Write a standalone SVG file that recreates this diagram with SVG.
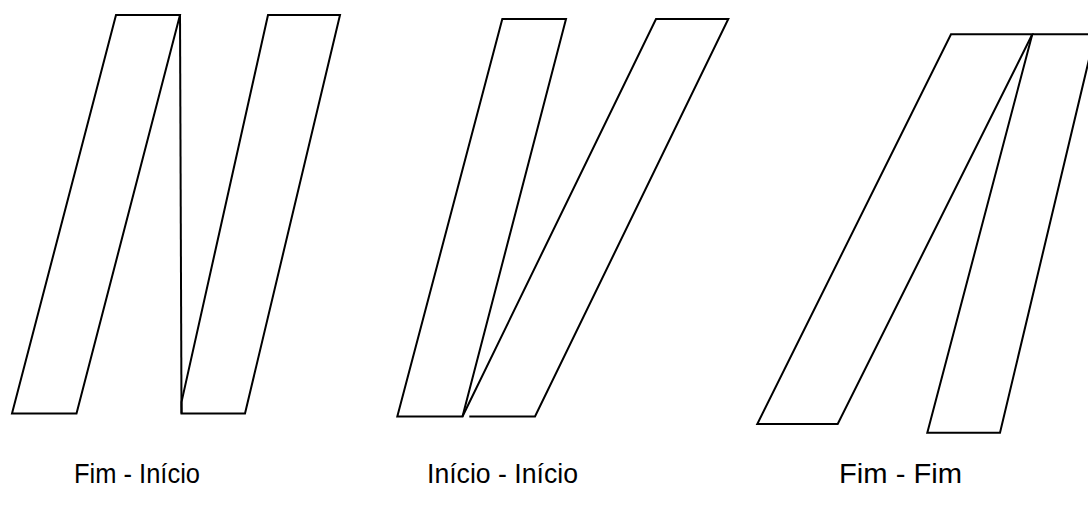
<svg xmlns="http://www.w3.org/2000/svg" width="1088" height="505" viewBox="0 0 1088 505">
<style>
.s{fill:none;stroke:#000;stroke-width:2;stroke-linejoin:miter}
.t{font-family:"Liberation Sans",Arial,sans-serif;font-size:28px;fill:#000}
</style>
<rect width="1088" height="505" fill="#fff"/>
<g id="fim-inicio">
<polygon class="s" points="116,15 180,15 76.5,413.5 12,413.5"/>
<polyline class="s" points="180,15 181.5,413.5"/>
<polygon class="s" points="268,15 340,15 245,413.5 181.5,413.5 181.5,402"/>
<text class="t" x="74" y="483" textLength="126" lengthAdjust="spacingAndGlyphs">Fim - Início</text>
</g>
<g id="inicio-inicio">
<polygon class="s" points="502.3,19 566,19 462.5,416.5 397.3,416.5"/>
<polyline class="s" points="469.3,416.5 535,416.5 728.3,19 656,19 462.5,416.5"/>
<text class="t" x="427" y="483" textLength="151" lengthAdjust="spacingAndGlyphs">Início - Início</text>
</g>
<g id="fim-fim">
<polygon class="s" points="951,34.3 1032.3,34.3 837.7,424 757.3,424"/>
<polyline class="s" points="1032.3,34.3 1095,34.3 1000,432.7 927.3,432.7 1032.3,34.3"/>
<text class="t" x="839" y="483" textLength="123" lengthAdjust="spacingAndGlyphs">Fim - Fim</text>
</g>
</svg>
